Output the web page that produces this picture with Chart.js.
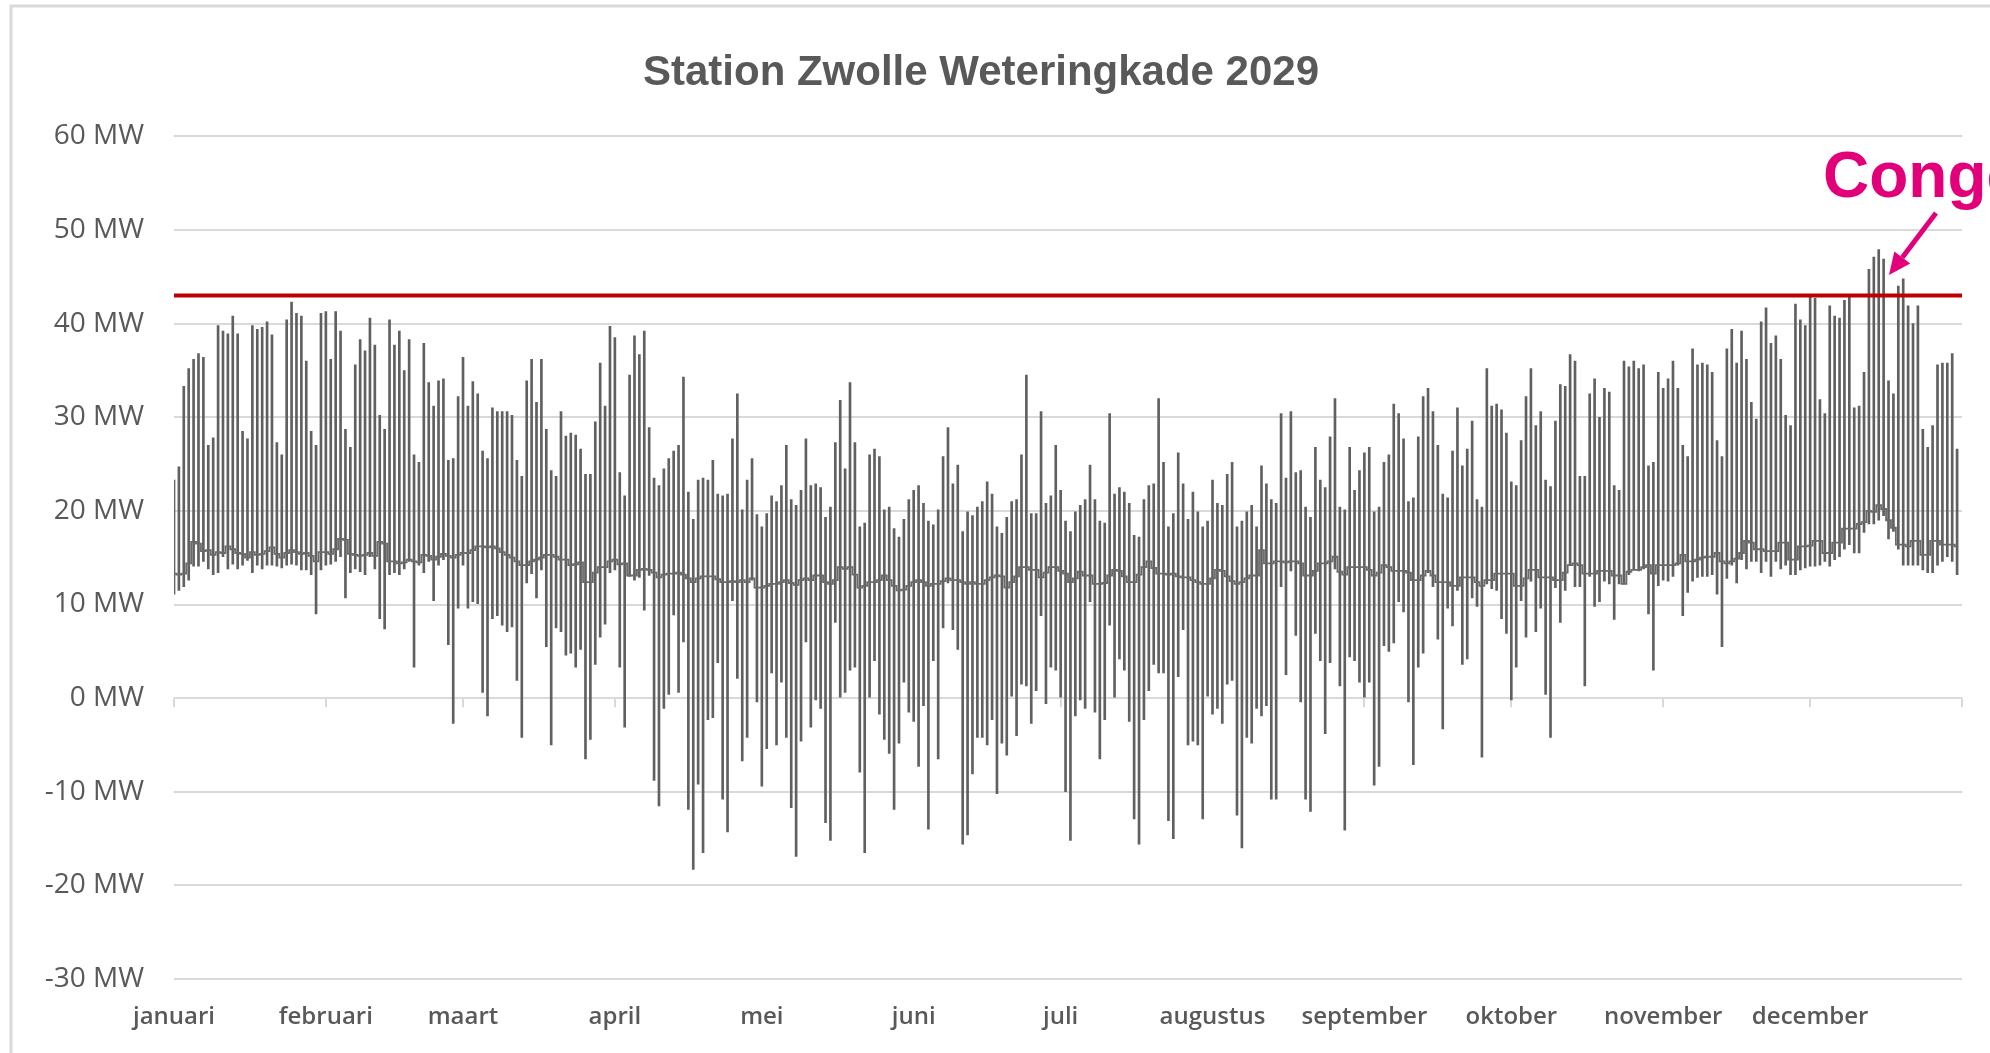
<!DOCTYPE html>
<html>
<head>
<meta charset="utf-8">
<script src="https://cdn.jsdelivr.net/npm/chart.js@4.4.1/dist/chart.umd.min.js"></script>
<style>
  html, body { margin: 0; padding: 0; background: #ffffff; }
  canvas { display: block; }
</style>
</head>
<body>
<canvas id="chart" width="1990" height="1053"></canvas>
<script>
// station load per day (MW), day 0 = 1 januari
const monthLabels = ["januari", "februari", "maart", "april", "mei", "juni", "juli",
  "augustus", "september", "oktober", "november", "december", ""];
const monthStarts = [0, 31, 59, 90, 120, 151, 181, 212, 243, 273, 304, 334, 365];
const yTicks = [-30, -20, -10, 0, 10, 20, 30, 40, 50, 60];
const LIMIT_MW = 43;

const highMW = [
  23.3, 24.7, 33.3, 35.2, 36.2, 36.8, 36.4, 27.0, 27.8, 39.8, 39.2, 38.9, 40.8, 38.9, 28.5, 27.7, 39.8, 39.4, 39.6, 40.2,
  38.8, 27.3, 26.0, 40.4, 42.3, 41.1, 40.8, 36.0, 28.5, 27.0, 41.1, 41.3, 36.2, 41.3, 39.2, 28.7, 26.8, 35.6, 38.3, 37.1,
  40.6, 37.7, 30.2, 28.7, 40.4, 37.7, 39.2, 35.0, 38.3, 26.0, 25.2, 37.9, 33.7, 31.2, 33.9, 34.1, 25.4, 25.6, 32.2, 36.4,
  31.2, 33.8, 32.5, 26.4, 25.6, 31.0, 30.6, 30.6, 30.6, 30.2, 25.4, 23.7, 33.9, 36.2, 31.6, 36.2, 28.7, 24.3, 23.7, 30.6,
  28.0, 28.3, 28.1, 26.6, 23.9, 23.9, 29.5, 35.8, 31.2, 39.7, 38.5, 24.1, 21.6, 34.5, 38.7, 36.7, 39.2, 28.9, 23.5, 22.7,
  24.5, 25.6, 26.4, 27.0, 34.3, 22.0, 19.1, 23.3, 23.5, 23.3, 25.4, 21.8, 21.6, 21.8, 27.7, 32.5, 20.1, 23.3, 25.6, 19.6,
  18.3, 19.7,
  21.6, 21.0, 22.7, 27.0, 21.2, 20.6, 22.2, 27.7, 22.7, 22.9, 22.5, 19.3, 20.4, 27.3, 31.8, 24.5, 33.7, 27.3, 18.3, 18.7,
  26.0, 26.6, 25.8, 20.1, 20.4, 18.1, 17.2, 19.1, 21.2, 22.2, 22.7, 20.8, 18.9, 18.5, 20.1, 25.8, 28.9, 22.9, 24.9, 17.8,
  19.9, 19.5, 20.4, 21.0, 23.1, 21.8, 18.3, 17.6, 19.3, 21.0, 21.2, 26.0, 34.5, 19.7, 19.7, 30.6, 20.8, 21.6, 27.0, 22.2,
  18.9,
  17.8, 19.9, 20.6, 21.2, 24.9, 21.2, 18.9, 18.7, 30.4, 21.8, 22.5, 22.0, 20.8, 17.4, 17.2, 21.2, 22.7, 22.9, 32.0, 25.2,
  18.3, 19.7, 26.2, 22.9, 19.1, 22.0, 19.9, 18.3, 18.9, 23.3, 20.8, 20.6, 23.9, 25.2, 18.3, 18.9, 19.9, 20.6, 18.3, 24.8,
  22.9, 21.2, 20.8, 30.4, 23.5, 30.6, 24.1, 24.3, 20.4, 19.3, 26.8, 23.3, 22.5, 27.9, 32.0, 20.4, 20.1, 26.8, 22.2, 24.3,
  26.2,
  26.8, 19.9, 20.4, 25.2, 26.0, 31.4, 30.4, 27.7, 21.0, 21.4, 27.9, 32.2, 33.1, 30.6, 27.0, 21.8, 21.4, 26.4, 31.0, 24.8,
  26.6, 29.6, 21.2, 20.4, 35.2, 31.2, 31.4, 30.8, 28.3, 23.1, 22.7, 27.5, 32.2, 35.2, 29.1, 30.6, 23.3, 22.6, 29.6, 33.5,
  33.3, 36.7, 36.0, 23.7, 23.7, 32.5, 34.1, 30.0, 33.1, 32.7, 22.7, 22.2, 36.0, 35.4, 36.0, 35.2, 35.6, 24.8, 25.2, 34.8,
  33.1,
  34.1, 36.0, 33.1, 27.0, 25.8, 37.3, 35.6, 35.8, 35.6, 34.8, 27.5, 25.8, 37.3, 39.4, 35.8, 39.2, 36.2, 31.6, 29.8, 40.2,
  41.7, 37.9, 38.7, 36.2, 30.2, 29.1, 42.1, 40.4, 39.8, 42.9, 42.7, 31.9, 30.4, 41.9, 40.8, 40.6, 42.5, 43.1, 31.0, 31.2,
  34.8, 45.8, 47.1, 47.9, 46.9, 33.9, 32.5, 44.0, 44.8, 41.9, 40.0, 41.9, 28.7, 26.8, 29.1, 35.6, 35.8, 35.8, 36.8, 26.6
];

const lowMW = [
  11.1, 11.5, 11.9, 12.6, 14.1, 14.1, 14.6, 13.8, 13.2, 13.4, 15.1, 13.8, 14.3, 13.8, 14.2, 14.7, 13.4, 14.2, 13.8, 14.2,
  14.2, 14.1, 13.9, 14.2, 14.3, 14.2, 13.7, 13.7, 13.2, 9.0, 13.7, 14.2, 14.3, 14.6, 15.1, 10.7, 13.4, 13.8, 13.5, 13.2,
  15.1, 13.8, 8.5, 7.4, 13.2, 13.4, 13.2, 13.8, 14.6, 3.3, 14.2, 13.4, 14.6, 10.4, 14.2, 14.8, 5.7, -2.7, 9.6, 14.2,
  9.6, 10.3, 10.1, 0.6, -1.9, 8.5, 8.8, 7.8, 7.1, 7.6, 1.9, -4.2, 12.3, 13.3, 10.7, 13.7, 5.5, -5.0, 7.5, 7.1,
  4.6, 4.8, 3.3, 5.2, -6.5, -4.4, 3.6, 6.5, 7.9, 13.4, 13.7, 3.3, -3.1, 13.0, 12.6, 12.9, 9.4, 13.1, -8.8, -11.5,
  -1.1, 0.4, 8.9, 0.6, 6.0, -11.9, -18.3, -9.2, -16.5, -2.3, -2.1, 3.8, -10.8, -14.3, 10.4, 2.1, -6.7, -4.2, 12.6, -0.4,
  -9.4, -5.4,
  2.7, -5.0, 1.7, -4.2, -11.7, -16.9, -4.6, 6.0, -3.1, -0.2, -1.1, -13.3, -15.2, 8.1, 0.0, 0.6, 3.0, 3.3, -7.9, -16.5,
  0.0, 4.0, -1.7, -4.4, -5.9, -11.9, -4.8, 1.7, -1.5, -2.5, -7.3, -0.8, -14.0, 4.0, -6.5, 7.5, 12.3, 7.3, 5.2, -15.6,
  -14.6, -8.1, -4.2, -4.2, -5.0, -2.3, -10.2, -4.8, -6.1, 0.2, -4.0, 1.5, 1.3, -2.7, 0.8, 8.8, -0.6, 3.3, 3.0, 0.0,
  -10.0,
  -15.2, -1.9, -0.2, -1.1, 10.3, -1.5, -6.5, -2.3, 7.8, 0.0, 4.2, 3.0, -2.5, -12.9, -15.6, -2.3, 0.8, 3.6, 2.7, 2.7,
  -13.1, -15.0, 2.3, 7.3, -5.0, -4.6, -5.0, -12.9, 0.2, -1.7, -1.1, -2.7, 1.5, 1.9, -12.5, -16.0, -4.2, -4.8, -1.1, -1.9,
  -0.8, -10.8, -10.8, 11.9, 2.5, 13.6, 6.7, -0.4, -10.8, -12.1, 6.9, 4.0, -3.8, 3.8, 13.8, 1.3, -14.1, 4.4, 4.0, 1.7,
  0.0,
  1.7, -9.3, -7.3, 5.6, 5.0, 5.9, 10.3, 9.2, -0.4, -7.1, 3.3, 4.8, 13.4, 11.9, 6.3, -3.3, 9.6, 7.7, 11.5, 3.6,
  4.2, 10.7, 9.8, -6.3, 12.2, 11.7, 11.5, 8.5, 6.9, -0.2, 3.3, 10.4, 6.5, 12.5, 7.1, 9.6, 0.4, -4.2, 11.8, 8.1,
  11.5, 14.2, 11.9, 11.9, 1.3, 13.0, 9.8, 10.3, 12.5, 12.2, 8.4, 12.2, 12.2, 13.2, 13.7, 13.6, 13.8, 9.0, 3.0, 12.0,
  12.6,
  12.5, 13.0, 14.2, 8.8, 11.3, 12.5, 12.9, 13.0, 13.0, 13.2, 11.1, 5.5, 12.8, 14.2, 12.3, 14.8, 13.8, 14.6, 14.6, 13.4,
  14.6, 13.0, 14.6, 13.8, 14.2, 13.2, 13.2, 13.7, 13.9, 14.1, 14.1, 14.2, 14.6, 14.1, 14.8, 15.1, 15.9, 16.4, 15.5, 15.5,
  17.7, 18.6, 18.6, 19.0, 19.5, 17.0, 17.8, 15.9, 14.2, 14.2, 14.2, 14.2, 13.7, 13.4, 13.4, 14.2, 14.6, 15.1, 14.6, 13.2
];

const midMW = [
  13.3, 13.2, 13.3, 14.4, 16.7, 16.5, 15.7, 15.8, 15.3, 15.6, 15.5, 16.2, 15.9, 15.5, 15.4, 15.0, 15.6, 15.3, 15.4, 15.7,
  16.1, 15.4, 15.0, 15.5, 15.8, 15.6, 15.4, 15.5, 15.2, 14.6, 15.6, 15.6, 15.4, 15.9, 17.0, 16.9, 15.4, 15.3, 15.2, 15.3,
  15.5, 15.2, 16.7, 16.5, 14.6, 14.6, 14.4, 14.5, 14.8, 14.6, 14.5, 15.3, 15.2, 14.8, 15.1, 15.4, 15.2, 15.0, 15.3, 15.5,
  15.5, 15.8, 16.2, 16.2, 16.1, 16.2, 16.0, 15.6, 15.3, 15.0, 14.6, 14.2, 14.2, 14.6, 14.8, 15.0, 15.3, 15.3, 15.1, 14.8,
  14.8, 14.2, 14.3, 14.5, 12.4, 12.4, 13.4, 14.0, 14.0, 14.6, 14.8, 14.3, 14.4, 13.1, 13.1, 13.7, 13.8, 13.7, 13.4, 12.9,
  13.2, 13.3, 13.3, 13.4, 13.2, 12.8, 12.4, 12.8, 13.0, 13.0, 13.0, 12.7, 12.4, 12.4, 12.5, 12.4, 12.6, 12.4, 12.8, 11.8,
  11.8, 12.0,
  12.2, 12.2, 12.4, 12.6, 12.3, 12.1, 12.6, 12.8, 12.6, 13.1, 13.1, 12.4, 12.2, 12.6, 14.0, 13.8, 14.0, 13.2, 11.8, 12.0,
  12.4, 12.4, 12.6, 13.1, 12.6, 12.0, 11.5, 11.6, 12.0, 12.4, 12.6, 12.4, 12.0, 12.2, 12.2, 12.5, 12.8, 12.6, 12.6, 12.4,
  12.2, 12.4, 12.2, 12.2, 12.6, 12.9, 13.1, 13.0, 11.8, 12.4, 13.0, 14.0, 14.0, 13.7, 13.7, 12.9, 13.4, 14.0, 14.0, 13.6,
  13.3,
  12.4, 12.8, 13.5, 13.1, 13.1, 12.2, 12.2, 12.3, 13.1, 13.7, 13.6, 13.0, 12.4, 12.4, 13.2, 14.0, 14.6, 13.9, 13.3, 13.3,
  13.2, 13.3, 13.0, 12.9, 12.9, 12.6, 12.4, 12.2, 12.2, 12.8, 13.7, 13.6, 13.0, 12.5, 12.2, 12.4, 12.8, 13.1, 13.1, 15.8,
  14.4, 14.4, 14.6, 14.6, 14.5, 14.6, 14.6, 14.4, 13.1, 13.1, 13.6, 14.4, 14.4, 14.6, 15.1, 13.5, 13.2, 14.0, 14.0, 14.0,
  14.0,
  13.7, 13.1, 13.4, 14.2, 14.0, 13.6, 13.6, 13.6, 13.4, 12.6, 12.6, 13.1, 13.6, 13.1, 12.4, 12.4, 12.4, 12.0, 12.0, 12.9,
  12.9, 12.9, 12.4, 12.0, 12.6, 12.6, 13.3, 13.3, 13.3, 13.3, 12.0, 12.0, 12.8, 13.7, 13.7, 12.9, 12.9, 12.9, 12.6, 12.6,
  13.4, 14.2, 14.4, 14.2, 13.3, 13.3, 13.3, 13.6, 13.6, 13.6, 13.1, 13.1, 12.2, 13.5, 13.7, 13.7, 14.0, 14.2, 13.3, 14.2,
  14.2,
  14.2, 14.2, 14.4, 15.3, 14.6, 14.6, 14.8, 15.0, 15.1, 15.1, 15.5, 14.6, 14.4, 14.6, 14.9, 15.5, 16.8, 16.6, 15.9, 15.9,
  15.7, 15.7, 15.7, 16.6, 16.6, 14.8, 14.8, 16.2, 16.2, 16.3, 16.8, 16.8, 15.5, 15.5, 16.6, 16.6, 18.1, 18.1, 18.1, 18.6,
  18.8, 20.0, 19.9, 20.6, 20.2, 19.0, 18.2, 16.4, 16.4, 16.2, 16.8, 16.8, 15.3, 15.3, 16.8, 16.8, 16.4, 16.4, 16.4, 16.2
];

const GREY = '#606060';
const GRID = '#d9d9d9';
const MAGENTA = '#e2007a';

// frame, zero-line ticks and the "Congestie" callout
const decor = {
  id: 'decor',
  beforeDraw(chart) {
    const ctx = chart.ctx;
    ctx.save();
    ctx.fillStyle = '#ffffff';
    ctx.fillRect(0, 0, chart.width, chart.height);
    ctx.strokeStyle = GRID;
    ctx.lineWidth = 3;
    ctx.beginPath();
    ctx.moveTo(11, chart.height + 5);
    ctx.lineTo(11, 6);
    ctx.lineTo(chart.width + 5, 6);
    ctx.stroke();
    ctx.restore();
  },
  beforeDatasetsDraw(chart) {
    const { ctx, scales } = chart;
    const y0 = scales.y.getPixelForValue(0);
    ctx.save();
    ctx.strokeStyle = GRID;
    ctx.lineWidth = 2;
    monthStarts.forEach(d => {
      const x = Math.round(scales.x.getPixelForValue(d));
      ctx.beginPath();
      ctx.moveTo(x, y0);
      ctx.lineTo(x, y0 + 9);
      ctx.stroke();
    });
    ctx.restore();
  },
  afterDraw(chart) {
    const ctx = chart.ctx;
    ctx.save();
    ctx.fillStyle = MAGENTA;
    ctx.font = 'bold 64px "Liberation Sans", Arial, sans-serif';
    ctx.textBaseline = 'alphabetic';
    ctx.fillText('Congestie', 1823, 197);

    // arrow towards the december peak
    const sx = 1936, sy = 213, tx = 1889, ty = 275;
    const len = Math.hypot(tx - sx, ty - sy);
    const ux = (tx - sx) / len, uy = (ty - sy) / len;
    const head = 22, half = 10;
    const bx = tx - ux * head, by = ty - uy * head;
    ctx.strokeStyle = MAGENTA;
    ctx.lineWidth = 5;
    ctx.beginPath();
    ctx.moveTo(sx, sy);
    ctx.lineTo(bx, by);
    ctx.stroke();
    ctx.beginPath();
    ctx.moveTo(tx, ty);
    ctx.lineTo(bx - uy * half, by + ux * half);
    ctx.lineTo(bx + uy * half, by - ux * half);
    ctx.closePath();
    ctx.fill();
    ctx.restore();
  }
};

new Chart(document.getElementById('chart'), {
  data: {
    datasets: [
      {
        type: 'line',
        label: 'Grens',
        data: [{ x: 0, y: LIMIT_MW }, { x: 365, y: LIMIT_MW }],
        borderColor: '#c00000',
        borderWidth: 4,
        pointRadius: 0,
        order: 0
      },
      {
        type: 'line',
        label: 'Gemiddeld',
        data: midMW.map((v, i) => ({ x: i, y: v })),
        borderColor: '#6a6a6a',
        borderWidth: 1.8,
        stepped: 'middle',
        pointRadius: 0,
        order: 1
      },
      {
        type: 'bar',
        label: 'Min/max',
        data: highMW.map((v, i) => ({ x: i, y: [lowMW[i], v] })),
        backgroundColor: GREY,
        borderWidth: 0,
        barThickness: 2,
        order: 2
      }
    ]
  },
  options: {
    responsive: false,
    devicePixelRatio: 1,
    animation: false,
    layout: { padding: { left: 0, right: 28, top: 0, bottom: 0 } },
    plugins: {
      legend: { display: false },
      tooltip: { enabled: false },
      title: {
        display: true,
        text: 'Station Zwolle Weteringkade 2029',
        color: '#595959',
        font: { family: '"Liberation Sans", Arial, sans-serif', size: 42, weight: 'bold' },
        padding: { top: 48, bottom: 38 }
      }
    },
    scales: {
      x: {
        type: 'linear',
        offset: false,
        min: 0,
        max: 365,
        afterBuildTicks(scale) {
          scale.ticks = monthStarts.map(v => ({ value: v }));
        },
        afterFit(scale) { scale.height = 74; },
        grid: { display: false, offset: false },
        border: { display: false },
        ticks: {
          autoSkip: false,
          maxRotation: 0,
          padding: 16,
          color: '#595959',
          font: { family: '"Open Sans", sans-serif', size: 24, weight: '600' },
          callback: (v) => monthLabels[monthStarts.indexOf(v)]
        }
      },
      y: {
        min: -30,
        max: 60,
        afterBuildTicks(scale) {
          scale.ticks = yTicks.map(v => ({ value: v }));
        },
        afterFit(scale) { scale.width = 174; },
        grid: { color: GRID, lineWidth: 2, drawTicks: false },
        border: { display: false },
        ticks: {
          padding: 30,
          color: '#595959',
          font: { family: '"Open Sans", sans-serif', size: 28 },
          callback: (v) => v + ' MW'
        }
      }
    }
  },
  plugins: [decor]
});
</script>
</body>
</html>
